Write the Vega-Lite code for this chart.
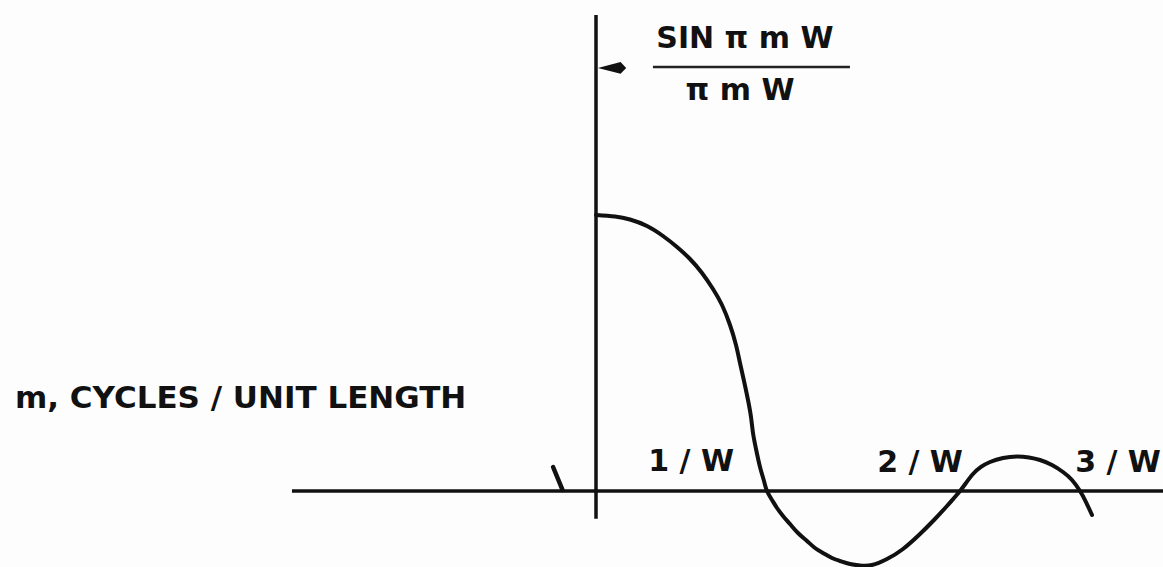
{
  "$schema": "https://vega.github.io/schema/vega-lite/v6.json",
  "width": 1163,
  "height": 567,
  "padding": 0,
  "autosize": {"type": "none"},
  "background": "#fdfdfd",
  "config": {"view": {"stroke": null}},
  "datasets": {
    "axes": [
      {"name": "m axis", "x1": -1.778, "x2": 3.316, "y1": 0, "y2": 0},
      {"name": "amplitude axis", "x1": 0, "x2": 0, "y1": -0.101, "y2": 1.725}
    ],
    "fraction": [
      {"x1": 0.333, "x2": 1.485, "y1": 1.536, "y2": 1.536}
    ],
    "stroke_mark": [
      {"x1": -0.251, "x2": -0.196, "y1": 0.087, "y2": 0.004}
    ],
    "curve": [
      {"m": 0.0, "v": 1.0},
      {"m": 0.1111, "v": 0.9946},
      {"m": 0.1988, "v": 0.9837},
      {"m": 0.2982, "v": 0.9601},
      {"m": 0.3918, "v": 0.9239},
      {"m": 0.4737, "v": 0.8841},
      {"m": 0.5497, "v": 0.8406},
      {"m": 0.6199, "v": 0.7899},
      {"m": 0.6842, "v": 0.7319},
      {"m": 0.7368, "v": 0.6739},
      {"m": 0.7836, "v": 0.6014},
      {"m": 0.8187, "v": 0.529},
      {"m": 0.8421, "v": 0.4638},
      {"m": 0.8655, "v": 0.3986},
      {"m": 0.8889, "v": 0.3297},
      {"m": 0.9064, "v": 0.2681},
      {"m": 0.9181, "v": 0.2101},
      {"m": 0.9357, "v": 0.1522},
      {"m": 0.9591, "v": 0.087},
      {"m": 0.9825, "v": 0.0362},
      {"m": 1.0, "v": 0.0},
      {"m": 1.0292, "v": -0.0326},
      {"m": 1.0585, "v": -0.0616},
      {"m": 1.0936, "v": -0.0906},
      {"m": 1.1345, "v": -0.1196},
      {"m": 1.1813, "v": -0.1522},
      {"m": 1.2339, "v": -0.1812},
      {"m": 1.2807, "v": -0.2065},
      {"m": 1.3275, "v": -0.2246},
      {"m": 1.3801, "v": -0.2428},
      {"m": 1.4269, "v": -0.2536},
      {"m": 1.4854, "v": -0.2645},
      {"m": 1.5439, "v": -0.2699},
      {"m": 1.614, "v": -0.2681},
      {"m": 1.7018, "v": -0.2464},
      {"m": 1.7953, "v": -0.2101},
      {"m": 1.8947, "v": -0.1558},
      {"m": 1.9766, "v": -0.1051},
      {"m": 2.0526, "v": -0.0543},
      {"m": 2.0936, "v": -0.0254},
      {"m": 2.1287, "v": 0.0},
      {"m": 2.1637, "v": 0.029},
      {"m": 2.2047, "v": 0.0616},
      {"m": 2.2515, "v": 0.087},
      {"m": 2.3041, "v": 0.1051},
      {"m": 2.3801, "v": 0.1196},
      {"m": 2.462, "v": 0.125},
      {"m": 2.5322, "v": 0.1214},
      {"m": 2.5965, "v": 0.1123},
      {"m": 2.6667, "v": 0.0942},
      {"m": 2.731, "v": 0.0688},
      {"m": 2.7836, "v": 0.0399},
      {"m": 2.8304, "v": 0.0},
      {"m": 2.8655, "v": -0.0399},
      {"m": 2.9006, "v": -0.087}
    ],
    "labels": [
      {"text": "m, CYCLES / UNIT LENGTH", "x": -3.398, "y": 0.333, "anchor": "left"},
      {"text": "SIN π m W", "x": 0.871, "y": 1.636, "anchor": "center"},
      {"text": "π m W", "x": 0.842, "y": 1.449, "anchor": "center"},
      {"text": "1 / W", "x": 0.556, "y": 0.105, "anchor": "center"},
      {"text": "2 / W", "x": 1.895, "y": 0.101, "anchor": "center"},
      {"text": "3 / W", "x": 3.053, "y": 0.101, "anchor": "center"}
    ],
    "pointer": [
      {"x": 0.094, "y": 1.533}
    ]
  },
  "data": {"name": "curve"},
  "layer": [
    {
      "data": {"name": "axes"},
      "mark": {"type": "rule", "color": "#111111", "strokeWidth": 3.5},
      "encoding": {
        "x": {"field": "x1", "type": "quantitative", "scale": {"domain": [-3.4854, 3.3158], "nice": false, "zero": false}, "axis": null},
        "x2": {"field": "x2"},
        "y": {"field": "y1", "type": "quantitative", "scale": {"domain": [-0.2754, 1.779], "nice": false, "zero": false}, "axis": null},
        "y2": {"field": "y2"}
      }
    },
    {
      "data": {"name": "fraction"},
      "mark": {"type": "rule", "color": "#222222", "strokeWidth": 2.5},
      "encoding": {
        "x": {"field": "x1", "type": "quantitative"},
        "x2": {"field": "x2"},
        "y": {"field": "y1", "type": "quantitative"},
        "y2": {"field": "y2"}
      }
    },
    {
      "data": {"name": "stroke_mark"},
      "mark": {"type": "rule", "color": "#111111", "strokeWidth": 4.5, "strokeCap": "round"},
      "encoding": {
        "x": {"field": "x1", "type": "quantitative"},
        "x2": {"field": "x2"},
        "y": {"field": "y1", "type": "quantitative"},
        "y2": {"field": "y2"}
      }
    },
    {
      "mark": {"type": "line", "color": "#111111", "strokeWidth": 4, "interpolate": "natural", "strokeCap": "round"},
      "encoding": {
        "x": {"field": "m", "type": "quantitative"},
        "y": {"field": "v", "type": "quantitative"}
      }
    },
    {
      "data": {"name": "pointer"},
      "mark": {"type": "point", "shape": "M -1 0 L 0.6 -0.42 L 1 0 L 0.6 0.42 Z", "filled": true, "color": "#111111", "opacity": 1, "size": 800},
      "encoding": {
        "x": {"field": "x", "type": "quantitative"},
        "y": {"field": "y", "type": "quantitative"}
      }
    },
    {
      "data": {"name": "labels"},
      "transform": [{"filter": "datum.anchor == 'left'"}],
      "mark": {"type": "text", "align": "left", "baseline": "middle", "font": "DejaVu Sans", "fontWeight": "bold", "fontSize": 31, "color": "#111111"},
      "encoding": {
        "x": {"field": "x", "type": "quantitative"},
        "y": {"field": "y", "type": "quantitative"},
        "text": {"field": "text"}
      }
    },
    {
      "data": {"name": "labels"},
      "transform": [{"filter": "datum.anchor == 'center'"}],
      "mark": {"type": "text", "align": "center", "baseline": "middle", "font": "DejaVu Sans", "fontWeight": "bold", "fontSize": 30, "color": "#111111"},
      "encoding": {
        "x": {"field": "x", "type": "quantitative"},
        "y": {"field": "y", "type": "quantitative"},
        "text": {"field": "text"}
      }
    }
  ]
}
